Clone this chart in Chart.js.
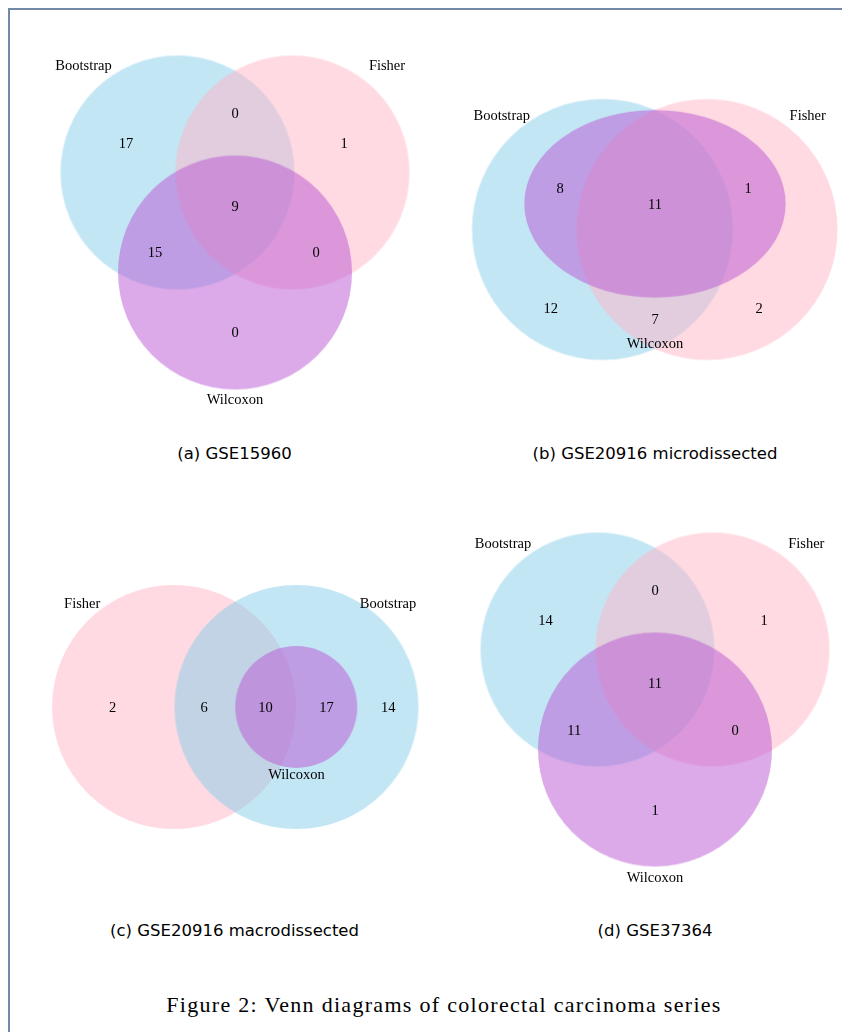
<!DOCTYPE html>
<html>
<head>
<meta charset="utf-8">
<script src="https://cdn.jsdelivr.net/npm/chart.js@4.4.1/dist/chart.umd.min.js"></script>
<style>
  html, body { margin: 0; padding: 0; background: #ffffff; width: 842px; height: 1032px; overflow: hidden; }
  #frame { position: absolute; left: 8px; top: 8px; width: 900px; height: 1100px;
           border-left: 2px solid #7289a6; border-top: 2px solid #7289a6; }
  .panel { position: absolute; width: 420px; height: 420px; }
  .sub { position: absolute; font-family: "DejaVu Sans", sans-serif; font-size: 16.5px; line-height: 20px;
         color: #000; white-space: nowrap; transform: translateX(-50%); }
  #caption { position: absolute; font-family: "Liberation Serif", serif; font-size: 22px; line-height: 26px;
             letter-spacing: 1.3px; color: #000; white-space: nowrap; transform: translateX(-50%); }
</style>
</head>
<body>
<div id="frame"></div>
<div id="figure"></div>
<script>
// ---- values ----
const setNames = ['Bootstrap', 'Fisher', 'Wilcoxon'];
const panelTitles = ['(a) GSE15960', '(b) GSE20916 microdissected', '(c) GSE20916 macrodissected', '(d) GSE37364'];
const figureCaption = 'Figure 2: Venn diagrams of colorectal carcinoma series';

// region sizes, in the order:
// Bootstrap only, Fisher only, Wilcoxon only, B∩F, B∩W, F∩W, B∩F∩W  (null = region absent)
const countsGSE15960      = [17, 1, 0, 0, 15, 0, 9];
const countsGSE20916Micro = [12, 2, null, 7, 8, 1, 11];
const countsGSE20916Macro = [14, 2, null, 6, 17, null, 10];
const countsGSE37364      = [14, 1, 1, 0, 11, 0, 11];

// ---- styling ----
const setColors = {
  Bootstrap: 'rgba(135, 206, 235, 0.5)',
  Fisher:    'rgba(255, 181, 197, 0.5)',
  Wilcoxon:  'rgba(186, 85, 211, 0.5)'
};
const textFont = '14.5px "Liberation Serif", "Times New Roman", serif';

// ---- layout: each panel uses local units centred on the panel (y grows downward) ----
const threeWay = {
  Bootstrap: { x: -57.5, y: -52.5, rx: 117 },
  Fisher:    { x: 57.5,  y: -52.5, rx: 117 },
  Wilcoxon:  { x: 0,     y: 47.5,  rx: 117 }
};
const panels = [
  { counts: countsGSE15960, centre: [234.5, 225], shapes: threeWay,
    drawOrder: ['Bootstrap', 'Fisher', 'Wilcoxon'],
    nameAt: { Bootstrap: [-151.5, -159.5], Fisher: [152, -159.5], Wilcoxon: [0, 174.5] },
    countAt: [[-109, -81.5], [109, -81.5], [0, 107.5], [0, -111.5], [-80, 27.5], [81, 27.5], [0, -18.5]] },
  { counts: countsGSE20916Micro, centre: [655, 225],
    shapes: {
      Bootstrap: { x: -52.5, y: 4.5, rx: 130.5 },
      Fisher:    { x: 52,    y: 4.5, rx: 130.5 },
      Wilcoxon:  { x: 0,     y: -21.2, rx: 130.7, ry: 93.8 }
    },
    drawOrder: ['Bootstrap', 'Fisher', 'Wilcoxon'],
    nameAt: { Bootstrap: [-153.3, -109.5], Fisher: [152.7, -109.5], Wilcoxon: [0, 118.5] },
    countAt: [[-104.3, 83.5], [104, 83.5], null, [0, 94.5], [-95, -36.5], [93, -36.5], [0, -20.5]] },
  { counts: countsGSE20916Macro, centre: [234.5, 707],
    shapes: {
      Fisher:    { x: -61,  y: 0, rx: 122 },
      Bootstrap: { x: 61.5, y: 0, rx: 122 },
      Wilcoxon:  { x: 61.2, y: 0, rx: 61 }
    },
    drawOrder: ['Fisher', 'Bootstrap', 'Wilcoxon'],
    nameAt: { Fisher: [-152.8, -103.5], Bootstrap: [153, -103.5], Wilcoxon: [61.5, 67.5] },
    countAt: [[153.2, 0.5], [-122.5, 0.5], null, [-30.8, 0.5], [91.5, 0.5], null, [30.5, 0.5]] },
  { counts: countsGSE37364, centre: [655, 702], shapes: threeWay,
    drawOrder: ['Bootstrap', 'Fisher', 'Wilcoxon'],
    nameAt: { Bootstrap: [-152, -158.5], Fisher: [151.3, -158.5], Wilcoxon: [0, 175.5] },
    countAt: [[-109.4, -81.5], [109, -81.5], [0, 108.5], [0, -111.5], [-80.7, 27.8], [80, 27.8], [0, -18.8]] }
];
const subtitleY = [454, 454, 931, 931];
const HALF = 210;
const TEXT_DROP = 1; // glyph centring correction for the serif labels, in px

// length in data units -> pixels, through the chart's own scale
function pxLen(scale, v) {
  return Math.abs(scale.getPixelForValue(v) - scale.getPixelForValue(0));
}

// filled circle / ellipse sprite for one set, sized from the chart scales
function setSprite(c) {
  const raw = c.raw;
  const sx = c.chart.scales.x, sy = c.chart.scales.y;
  const rx = pxLen(sx, raw.rx);
  const ry = pxLen(sy, raw.ry !== undefined ? raw.ry : raw.rx);
  const cv = document.createElement('canvas');
  cv.width = 2 * Math.ceil(rx) + 2;
  cv.height = 2 * Math.ceil(ry) + 2;
  const g = cv.getContext('2d');
  g.fillStyle = c.dataset.backgroundColor;
  g.beginPath();
  g.ellipse(cv.width / 2, cv.height / 2, rx, ry, 0, 0, 2 * Math.PI);
  g.fill();
  return cv;
}

// text plugin: set names and region counts placed through the scales
function textPlugin(items) {
  return {
    id: 'vennText',
    afterDatasetsDraw(chart) {
      const { ctx } = chart;
      const sx = chart.scales.x, sy = chart.scales.y;
      ctx.save();
      ctx.font = textFont;
      ctx.fillStyle = '#000';
      ctx.textAlign = 'center';
      ctx.textBaseline = 'middle';
      items.forEach(it => ctx.fillText(it.text, sx.getPixelForValue(it.x), sy.getPixelForValue(it.y) + TEXT_DROP));
      ctx.restore();
    }
  };
}

const fig = document.getElementById('figure');

panels.forEach((p, pi) => {
  const canvas = document.createElement('canvas');
  canvas.className = 'panel';
  canvas.width = 2 * HALF;
  canvas.height = 2 * HALF;
  canvas.style.left = (p.centre[0] - HALF) + 'px';
  canvas.style.top = (p.centre[1] - HALF) + 'px';
  fig.appendChild(canvas);

  const datasets = p.drawOrder.map((name, k) => ({
    label: name,
    data: [p.shapes[name]],
    backgroundColor: setColors[name],
    borderWidth: 0,
    order: p.drawOrder.length - k,
    clip: false
  }));

  const items = [];
  setNames.forEach(n => items.push({ text: n, x: p.nameAt[n][0], y: p.nameAt[n][1] }));
  p.counts.forEach((v, i) => {
    if (v !== null && p.countAt[i]) items.push({ text: String(v), x: p.countAt[i][0], y: p.countAt[i][1] });
  });

  new Chart(canvas, {
    type: 'bubble',
    data: { datasets },
    options: {
      responsive: false,
      animation: false,
      events: [],
      devicePixelRatio: 1,
      layout: { autoPadding: false, padding: 0 },
      elements: {
        point: {
          radius: 1,
          pointStyle: c => (c.raw && c.chart.chartArea) ? setSprite(c) : 'circle',
          borderWidth: 0
        }
      },
      scales: {
        x: { type: 'linear', display: false, min: -HALF, max: HALF },
        y: { type: 'linear', display: false, min: -HALF, max: HALF, reverse: true }
      },
      plugins: { legend: { display: false }, tooltip: { enabled: false }, title: { display: false } }
    },
    plugins: [textPlugin(items)]
  });

  const sub = document.createElement('div');
  sub.className = 'sub';
  sub.textContent = panelTitles[pi];
  sub.style.left = p.centre[0] + 'px';
  sub.style.top = (subtitleY[pi] - 10) + 'px';
  fig.appendChild(sub);
});

const cap = document.createElement('div');
cap.id = 'caption';
cap.textContent = figureCaption;
cap.style.left = '444px';
cap.style.top = (1005 - 13) + 'px';
fig.appendChild(cap);
</script>
</body>
</html>
